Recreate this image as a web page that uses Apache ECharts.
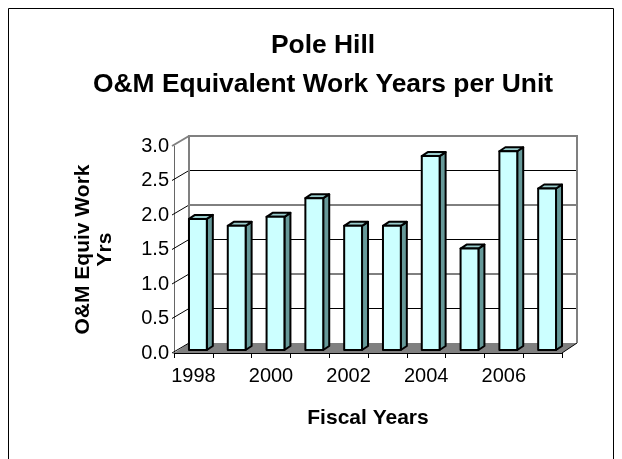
<!DOCTYPE html>
<html>
<head>
<meta charset="utf-8">
<script src="https://cdn.jsdelivr.net/npm/echarts@6/dist/echarts.min.js"></script>
<style>
  html, body { margin: 0; padding: 0; background: #fff; }
  #chart { width: 622px; height: 459px; }
</style>
</head>
<body>
<div id="chart"></div>
<script>
// fiscal years and O&M equivalent work years per unit
var years = ['1998', '1999', '2000', '2001', '2002', '2003', '2004', '2005', '2006', '2007'];
var workYears = [1.9, 1.8, 1.93, 2.2, 1.8, 1.8, 2.81, 1.47, 2.88, 2.34];
var yTicks = [0, 0.5, 1.0, 1.5, 2.0, 2.5, 3.0];

var FONT = '"Liberation Sans", Arial, sans-serif';
// depth of the box (back wall offset) and of the bars
var DX = 15, DY = -10;
var FX = 4.5, FY = -3;
var BX = 6, BY = -4;

var myChart = echarts.init(document.getElementById('chart'));

// back wall, floor, side wall diagonals
function renderWall(params, api) {
	var v = api.value(1);
	var vMax = yTicks[yTicks.length - 1];
	var band = api.size([1, 0])[0];
	var p = api.coord([0, v]);
	var xL = p[0] - band / 2;
	var xR = api.coord([years.length - 1, v])[0] + band / 2;
	var y = p[1];
	var y0 = api.coord([0, 0])[1];
	var children = [];
	if (v === 0) {
		children.push({
			type : 'polygon',
			shape : { points : [ [xL, y], [xR, y], [xR + DX, y + DY], [xL + DX, y + DY] ] },
			style : { fill : '#808080', stroke : null }
		});
		children.push({
			type : 'line',
			shape : { x1 : xR, y1 : y, x2 : xR + DX, y2 : y + DY },
			style : { stroke : '#000', lineWidth : 1 }
		});
	}
	if (v > 0 && v < vMax) {
		children.push({
			type : 'line',
			shape : { x1 : xL + DX, y1 : y + DY, x2 : xR + DX, y2 : y + DY },
			style : { stroke : '#000', lineWidth : 1 }
		});
	}
	children.push({
		type : 'line',
		shape : { x1 : xL - 2, y1 : y, x2 : xL + DX, y2 : y + DY },
		style : { stroke : v === vMax ? '#808080' : '#000', lineWidth : v === vMax ? 2 : 1 }
	});
	if (v === vMax) {
		children.push({
			type : 'polyline',
			shape : { points : [ [xL + DX, y0 + DY], [xL + DX, y + DY], [xR + DX, y + DY], [xR + DX, y0 + DY] ] },
			style : { stroke : '#808080', lineWidth : 2, fill : null }
		});
	}
	return { type : 'group', children : children };
}

// 3d looking column
function renderBar(params, api) {
	var i = api.value(0), v = api.value(1);
	var band = api.size([1, 0])[0];
	var base = api.coord([i, 0]);
	var top = api.coord([i, v]);
	var w = band * 0.46;
	var x1 = base[0] - w / 2 + FX, x2 = x1 + w;
	var yb = base[1] + FY, yt = top[1] + FY;
	var line = { stroke : '#000', lineWidth : 2, lineJoin : 'round' };
	return {
		type : 'group',
		children : [ {
			type : 'polygon',
			shape : { points : [ [x2, yt], [x2 + BX, yt + BY], [x2 + BX, yb + BY], [x2, yb] ] },
			style : Object.assign({ fill : '#669999' }, line)
		}, {
			type : 'polygon',
			shape : { points : [ [x1, yt], [x2, yt], [x2 + BX, yt + BY], [x1 + BX, yt + BY] ] },
			style : Object.assign({ fill : '#99CCCC' }, line)
		}, {
			type : 'rect',
			shape : { x : x1, y : yt, width : w, height : yb - yt },
			style : Object.assign({ fill : '#CCFFFF' }, line)
		} ]
	};
}

option = {
	backgroundColor : '#fff',
	animation : false,
	title : {
		text : 'Pole Hill\nO&M Equivalent Work Years per Unit',
		left : 318,
		top : 21,
		textAlign : 'center',
		textStyle : {
			fontFamily : FONT,
			fontWeight : 'bold',
			fontSize : 26.4,
			lineHeight : 39,
			color : '#000'
		}
	},
	graphic : [ {
		type : 'rect',
		shape : { x : 8.5, y : 8.5, width : 605, height : 480 },
		style : { fill : null, stroke : '#000', lineWidth : 1 },
		silent : true
	} ],
	grid : {
		left : 174,
		top : 146,
		width : 388,
		height : 207
	},
	xAxis : {
		type : 'category',
		data : years,
		z : 5,
		axisLine : { lineStyle : { color : '#000', width : 1 } },
		axisTick : { show : true, interval : 0, length : 5, lineStyle : { color : '#000' } },
		axisLabel : {
			interval : 1,
			margin : 13,
			fontFamily : FONT,
			fontSize : 20,
			color : '#000'
		},
		name : 'Fiscal Years',
		nameLocation : 'middle',
		nameGap : 55,
		nameTextStyle : { fontFamily : FONT, fontWeight : 'bold', fontSize : 21, color : '#000' },
		splitLine : { show : false }
	},
	yAxis : {
		type : 'value',
		min : 0,
		max : 3,
		interval : 0.5,
		axisLine : { show : true, lineStyle : { color : '#666', width : 1 } },
		axisTick : { show : false },
		axisLabel : {
			margin : 5,
			fontFamily : FONT,
			fontSize : 20,
			color : '#000',
			formatter : function(v) { return v.toFixed(1); }
		},
		name : 'O&M Equiv Work\nYrs',
		nameLocation : 'middle',
		nameGap : 58,
		nameRotate : 90,
		nameTextStyle : { fontFamily : FONT, fontWeight : 'bold', fontSize : 21, lineHeight : 22, color : '#000' },
		splitLine : { show : false }
	},
	series : [ {
		name : 'wall',
		type : 'custom',
		z : 1,
		silent : true,
		renderItem : renderWall,
		encode : { x : 0, y : 1 },
		data : yTicks.map(function(t) { return [0, t]; })
	}, {
		name : 'Equiv Work Years',
		type : 'custom',
		z : 3,
		renderItem : renderBar,
		encode : { x : 0, y : 1 },
		data : workYears.map(function(v, i) { return [i, v]; })
	} ]
};
myChart.setOption(option);
</script>
</body>
</html>
